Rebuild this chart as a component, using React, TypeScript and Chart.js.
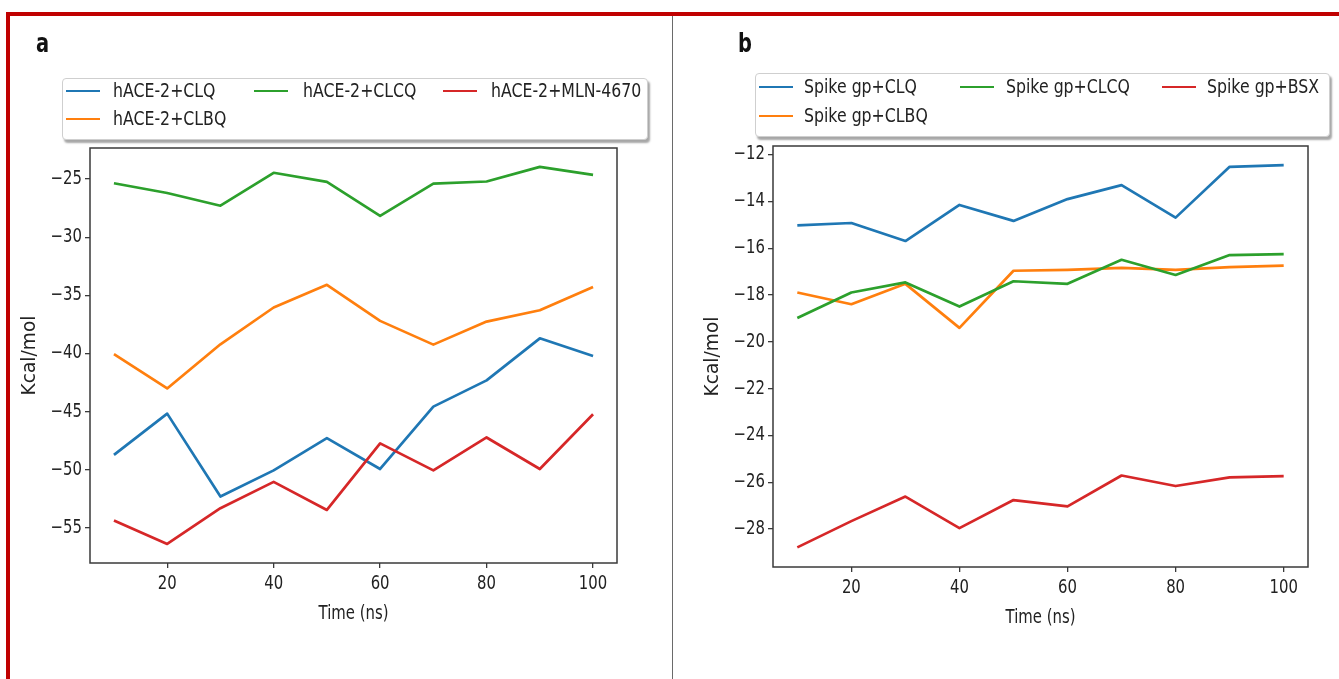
import React, { useEffect, useRef } from 'react';
import { Chart, registerables } from 'chart.js';
Chart.register(...registerables);

// ---------- data ----------
const TIME = [10, 20, 30, 40, 50, 60, 70, 80, 90, 100];
const X_TICKS = [20, 40, 60, 80, 100];

const A_LABELS = ['hACE-2+CLQ', 'hACE-2+CLBQ', 'hACE-2+CLCQ', 'hACE-2+MLN-4670'];
const A_CLQ = [-48.71, -45.16, -52.29, -50.04, -47.27, -49.92, -44.56, -42.3, -38.69, -40.2];
const A_CLBQ = [-40.05, -43.0, -39.2, -36.04, -34.09, -37.19, -39.23, -37.25, -36.28, -34.27];
const A_CLCQ = [-25.36, -26.2, -27.29, -24.46, -25.24, -28.16, -25.39, -25.21, -23.95, -24.64];
const A_MLN = [-54.34, -56.36, -53.29, -51.03, -53.44, -47.72, -50.04, -47.21, -49.92, -45.22];
const A_Y_TICKS = [-55, -50, -45, -40, -35, -30, -25];

const B_LABELS = ['Spike gp+CLQ', 'Spike gp+CLBQ', 'Spike gp+CLCQ', 'Spike gp+BSX'];
const B_CLQ = [-15.02, -14.92, -15.69, -14.15, -14.83, -13.9, -13.3, -14.69, -12.52, -12.45];
const B_CLBQ = [-17.89, -18.39, -17.52, -19.4, -16.96, -16.92, -16.84, -16.92, -16.81, -16.74];
const B_CLCQ = [-18.98, -17.89, -17.46, -18.49, -17.41, -17.52, -16.49, -17.14, -16.29, -16.25];
const B_BSX = [-28.78, -27.66, -26.61, -27.96, -26.76, -27.03, -25.71, -26.16, -25.79, -25.74];
const B_Y_TICKS = [-28, -26, -24, -22, -20, -18, -16, -14, -12];

const COLORS = ['#1f77b4', '#ff7f0e', '#2ca02c', '#d62728'];

// ---------- styling ----------
const FONT = "'DejaVu Sans', sans-serif";
// Horizontal text in the reference is tall and narrow.
const SQUEEZE = 0.8;
const TICK_SIZE = 18.6;
const TITLE_SIZE = 18.6;
const LEGEND_SIZE = 19.7;
const TEXT_COLOR = '#222222';

const condensePlugin = {
  id: 'condense',
  beforeDraw(chart: any) {
    const ctx = chart.ctx as any;
    if (ctx.__condensed) return;
    const orig = ctx.fillText;
    ctx.fillText = function (text: string, x: number, y: number, maxWidth?: number) {
      this.save();
      this.translate(x, y);
      const m = this.getTransform();
      const rotated = Math.abs(m.b) > 0.5;
      if (!rotated) this.scale(SQUEEZE, 1);
      const mw = maxWidth === undefined ? undefined : rotated ? maxWidth : maxWidth / SQUEEZE;
      if (mw === undefined) orig.call(this, text, 0, 0);
      else orig.call(this, text, 0, 0, mw);
      this.restore();
    };
    ctx.__condensed = true;
  },
};

const framePlugin = {
  id: 'frame',
  afterDatasetsDraw(chart: any) {
    const { ctx, chartArea: a } = chart;
    ctx.save();
    ctx.strokeStyle = '#3a3a3a';
    ctx.lineWidth = 1.5;
    ctx.strokeRect(a.left, a.top, a.right - a.left, a.bottom - a.top);
    ctx.restore();
  },
};

const minus = (v: number) => String(v).replace('-', '\u2212');

interface PanelCfg {
  series: number[][];
  labels: string[];
  yTicks: number[];
  yMin: number;
  yMax: number;
  padding: { left: number; right: number; top: number; bottom: number };
  yW: number;
  xH: number;
}

function makeConfig(p: PanelCfg): any {
  const datasets = p.series
    .map((vals, i) => ({
      label: p.labels[i],
      data: TIME.map((t, j) => ({ x: t, y: vals[j] })),
      borderColor: COLORS[i],
      backgroundColor: COLORS[i],
      borderWidth: 2.7,
      pointRadius: 0,
      tension: 0,
      fill: false,
      borderJoinStyle: 'round',
    }))
    .reverse();
  const grid = { display: true, drawOnChartArea: false, drawTicks: true, tickLength: 5, color: '#3a3a3a', lineWidth: 1.3 };
  return {
    type: 'line',
    data: { datasets },
    options: {
      animation: false,
      responsive: false,
      devicePixelRatio: 1,
      events: [],
      layout: { padding: p.padding },
      plugins: { legend: { display: false }, tooltip: { enabled: false } },
      scales: {
        x: {
          type: 'linear',
          min: 5.5,
          max: 104.5,
          afterBuildTicks: (s: any) => {
            s.ticks = X_TICKS.map((v) => ({ value: v }));
          },
          afterFit: (s: any) => {
            s.height = p.xH;
          },
          border: { display: false },
          grid,
          ticks: {
            autoSkip: false,
            maxRotation: 0,
            padding: 5,
            color: TEXT_COLOR,
            font: { family: FONT, size: TICK_SIZE },
            callback: (v: number) => minus(v),
          },
          title: {
            display: true,
            text: 'Time (ns)',
            color: TEXT_COLOR,
            padding: 0,
            font: { family: FONT, size: TITLE_SIZE, lineHeight: 1.2 },
          },
        },
        y: {
          type: 'linear',
          min: p.yMin,
          max: p.yMax,
          afterBuildTicks: (s: any) => {
            s.ticks = p.yTicks.map((v) => ({ value: v }));
          },
          afterFit: (s: any) => {
            s.width = p.yW;
          },
          border: { display: false },
          grid,
          ticks: {
            autoSkip: false,
            padding: 3,
            color: TEXT_COLOR,
            font: { family: FONT, size: TICK_SIZE },
            callback: (v: number) => minus(v),
          },
          title: {
            display: true,
            text: 'Kcal/mol',
            color: TEXT_COLOR,
            padding: 0,
            font: { family: FONT, size: TITLE_SIZE, lineHeight: 1.2 },
          },
        },
      },
    },
    plugins: [condensePlugin, framePlugin],
  };
}

function ChartCanvas(props: { cfg: PanelCfg; left: number; width: number; height: number }) {
  const ref = useRef<HTMLCanvasElement | null>(null);
  useEffect(() => {
    if (!ref.current) return;
    const chart = new Chart(ref.current, makeConfig(props.cfg));
    return () => chart.destroy();
  }, []);
  return (
    <canvas
      ref={ref}
      width={props.width}
      height={props.height}
      style={{ position: 'absolute', left: props.left, top: 0, width: props.width, height: props.height }}
    />
  );
}

interface LegendCfg {
  labels: string[];
  box: { left: number; top: number; width: number; height: number };
  colX: number[]; // line start per column
  textX: number[]; // text start per column
  rowY: number[];
}

function Legend(props: { cfg: LegendCfg }) {
  const { labels, box, colX, textX, rowY } = props.cfg;
  // matplotlib ncol=3 column-major placement: [c0r0, c0r1, c1r0, c2r0]
  const slots = [
    [0, 0],
    [0, 1],
    [1, 0],
    [2, 0],
  ];
  return (
    <>
      <div
        style={{
          position: 'absolute',
          left: box.left,
          top: box.top,
          width: box.width,
          height: box.height,
          boxSizing: 'border-box',
          border: '1px solid #cfcfcf',
          borderRadius: 4,
          background: '#fff',
          boxShadow: '2px 3px 2px rgba(0,0,0,0.35)',
        }}
      />
      {labels.map((lab, i) => {
        const [c, r] = slots[i];
        return (
          <React.Fragment key={lab}>
            <div
              style={{
                position: 'absolute',
                left: colX[c],
                top: rowY[r] - 1.4,
                width: 34,
                height: 2.8,
                background: COLORS[i],
              }}
            />
            <div
              style={{
                position: 'absolute',
                left: textX[c],
                top: rowY[r] - LEGEND_SIZE * 0.6,
                fontFamily: FONT,
                fontSize: LEGEND_SIZE,
                lineHeight: 1.2,
                color: TEXT_COLOR,
                whiteSpace: 'nowrap',
                transform: `scaleX(${SQUEEZE})`,
                transformOrigin: 'left center',
              }}
            >
              {lab}
            </div>
          </React.Fragment>
        );
      })}
    </>
  );
}

const PANEL_A: PanelCfg = {
  series: [A_CLQ, A_CLBQ, A_CLCQ, A_MLN],
  labels: A_LABELS,
  yTicks: A_Y_TICKS,
  yMin: -58.0,
  yMax: -22.33,
  padding: { left: 19, right: 56, top: 148, bottom: 54 },
  yW: 71,
  xH: 62,
};

const PANEL_B: PanelCfg = {
  series: [B_CLQ, B_CLBQ, B_CLCQ, B_BSX],
  labels: B_LABELS,
  yTicks: B_Y_TICKS,
  yMin: -29.62,
  yMax: -11.63,
  padding: { left: 29, right: 31, top: 146, bottom: 50 },
  yW: 71,
  xH: 62,
};

const LEGEND_A: LegendCfg = {
  labels: A_LABELS,
  box: { left: 62, top: 78, width: 586, height: 62 },
  colX: [66, 254, 443],
  textX: [113, 303, 491],
  rowY: [91, 119],
};

const LEGEND_B: LegendCfg = {
  labels: B_LABELS,
  box: { left: 755, top: 73, width: 575, height: 64 },
  colX: [759, 960, 1162],
  textX: [804, 1006, 1207],
  rowY: [87, 116],
};

function PanelLetter(props: { text: string; left: number; top: number }) {
  return (
    <div
      style={{
        position: 'absolute',
        left: props.left,
        top: props.top,
        fontFamily: FONT,
        fontWeight: 'bold',
        fontSize: 27,
        lineHeight: 1,
        color: '#111',
        transform: 'scaleX(0.72)',
        transformOrigin: 'left center',
      }}
    >
      {props.text}
    </div>
  );
}

export default function App() {
  return (
    <div
      style={{
        position: 'absolute',
        left: 0,
        top: 0,
        width: 1339,
        height: 679,
        background: '#fff',
        overflow: 'hidden',
      }}
    >
      <ChartCanvas cfg={PANEL_A} left={0} width={673} height={679} />
      <ChartCanvas cfg={PANEL_B} left={673} width={666} height={679} />
      <Legend cfg={LEGEND_A} />
      <Legend cfg={LEGEND_B} />
      <PanelLetter text="a" left={36} top={29} />
      <PanelLetter text="b" left={738} top={29} />
      {/* frame lines */}
      <div style={{ position: 'absolute', left: 6, top: 12, width: 1333, height: 4, background: '#c00000' }} />
      <div style={{ position: 'absolute', left: 6, top: 12, width: 4, height: 667, background: '#c00000' }} />
      <div style={{ position: 'absolute', left: 672, top: 16, width: 1, height: 663, background: '#6a6a6a' }} />
    </div>
  );
}
